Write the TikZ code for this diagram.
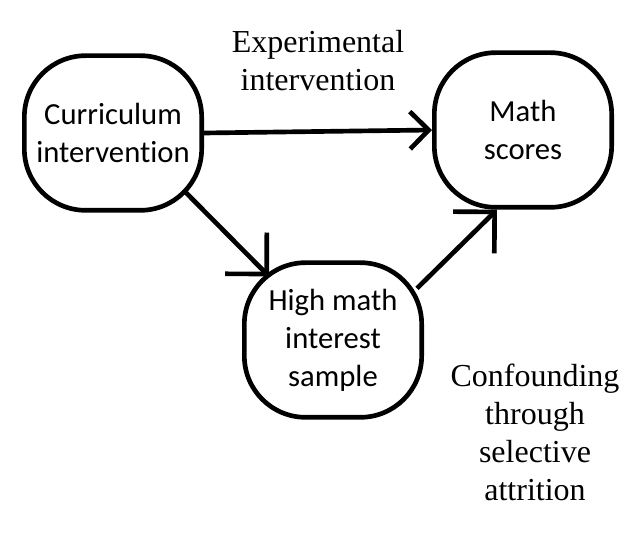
\documentclass[tikz,border=0pt]{standalone}
\usepackage{fontspec}
\setmainfont{Liberation Serif}
\newfontfamily\nodefont[Ligatures=NoCommon]{Carlito}
\usetikzlibrary{arrows.meta}

\begin{document}
\begin{tikzpicture}[x=0.75pt,y=-0.75pt,
	blob/.style={draw, line width=3.5pt, rounded corners=46pt, minimum width=133pt, minimum height=116pt, inner sep=0pt, align=center, font=\nodefont\fontsize{23}{28.5}\selectfont},
	lbl/.style={align=center, font=\fontsize{24}{28.5}\selectfont},
	arr/.style={line width=3.5pt, -{Straight Barb[length=14pt,width=28pt]}},
	bigarr/.style={line width=3.5pt, -{Straight Barb[length=22pt,width=44pt]}}]
	\useasboundingbox (0,0) rectangle (644,538);

	\node[blob] (cur) at (113,133) {Curriculum\\intervention};
	\node[blob] (math) at (523,130) {Math\\scores};
	\node[blob] (high) at (333,340) {High math\\interest\\sample};

	\node[lbl] (exp) at (318,61) {Experimental\\intervention};
	\node[lbl] (conf) at (535,432) {Confounding\\through\\selective\\attrition};

	\draw[arr] (cur.east) -- (math.west);
	\draw[bigarr] ([shift={(-18,-20)}]cur.south east) -- ([shift={(27,16)}]high.north west);
	\draw[bigarr] ([shift={(-7,28)}]high.north east) -- ([shift={(-26,0)}]math.south);
\end{tikzpicture}
\end{document}
